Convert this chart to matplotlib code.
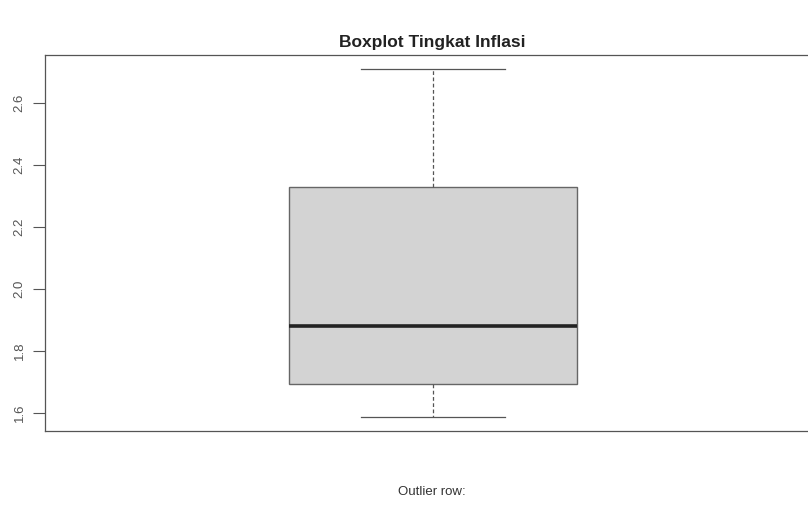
import matplotlib
matplotlib.use("Agg")
from matplotlib import pyplot as plt

plt.rcParams['font.family'] = ['Liberation Sans', 'DejaVu Sans']

# Ringkasan lima angka tingkat inflasi (%)
whisker_low = 1.587
q1 = 1.694
median = 1.881
q3 = 2.329
whisker_high = 2.71
yticks = [1.6, 1.8, 2.0, 2.2, 2.4, 2.6]
ytick_labels = ['1.6', '1.8', '2.0', '2.2', '2.4', '2.6']

stats = [{'whislo': whisker_low, 'q1': q1, 'med': median, 'q3': q3,
          'whishi': whisker_high, 'fliers': [], 'label': ''}]

fig = plt.figure(figsize=(8.08, 5.19), dpi=100)
ax = fig.add_axes([45 / 808, 1 - 431 / 519, 776 / 808, 376 / 519])

edge = '#555555'
ax.bxp(stats, positions=[1], widths=0.371, patch_artist=True, showfliers=False,
       boxprops=dict(facecolor='#d3d3d3', edgecolor='#666666', linewidth=1.0),
       medianprops=dict(color='#222222', linewidth=2.6, solid_capstyle='butt'),
       whiskerprops=dict(color='#555555', linewidth=0.9, linestyle=(0, (3, 2))),
       capprops=dict(color='#555555', linewidth=0.9),
       capwidths=0.186)

rng = whisker_high - whisker_low
ax.set_ylim(whisker_low - 0.04 * rng, whisker_high + 0.04 * rng)
ax.set_xlim(0.5, 1.5)
ax.set_xticks([])
ax.set_yticks(yticks)
ax.set_yticklabels(ytick_labels, rotation=90, va='center', fontsize=9.5, color='#555555')
ax.tick_params(axis='y', length=9, width=0.8, color=edge, pad=5)
for s in ax.spines.values():
    s.set_color(edge)
    s.set_linewidth(0.9)

fig.text(432 / 808, 1 - 42 / 519, 'Boxplot Tingkat Inflasi', ha='center', va='center',
         fontsize=12.5, fontweight='bold', color='#222222')
fig.text(432 / 808, 1 - 492 / 519, 'Outlier row:', ha='center', va='center',
         fontsize=9.5, color='#333333')

fig.savefig('out.png', dpi=100)
